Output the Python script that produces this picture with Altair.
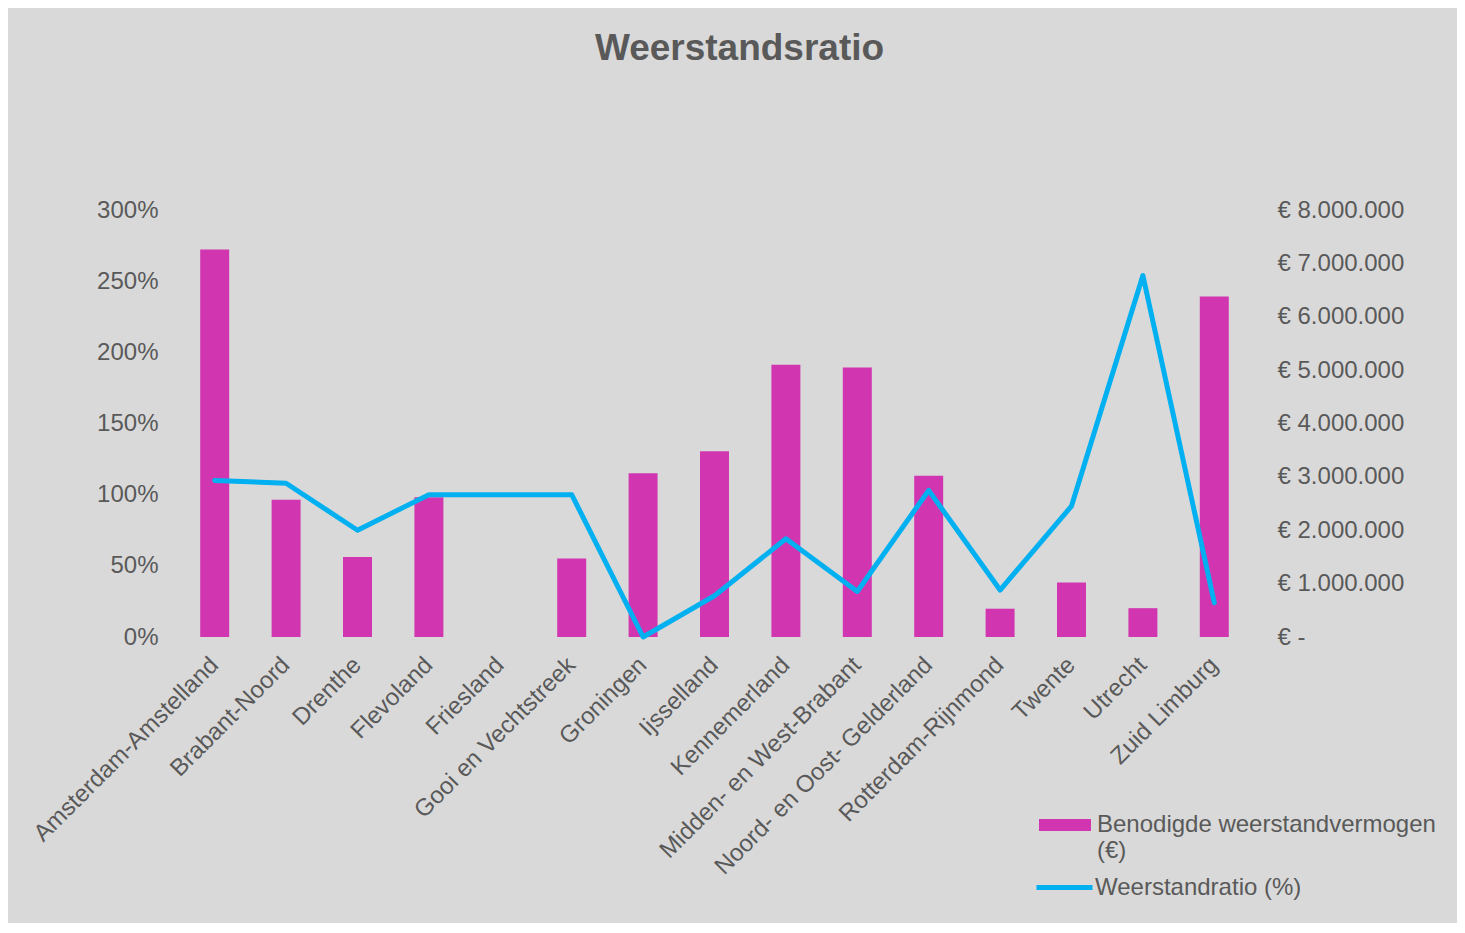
import altair as alt
import pandas as pd

regions = [
    "Amsterdam-Amstelland", "Brabant-Noord", "Drenthe", "Flevoland", "Friesland",
    "Gooi en Vechtstreek", "Groningen", "Ijsselland", "Kennemerland",
    "Midden- en West-Brabant", "Noord- en Oost- Gelderland", "Rotterdam-Rijnmond",
    "Twente", "Utrecht", "Zuid Limburg",
]
vermogen = [7260000, 2570000, 1500000, 2620000, 0, 1470000, 3070000, 3480000,
            5100000, 5050000, 3020000, 530000, 1020000, 540000, 6380000]
ratio = [1.10, 1.08, 0.75, 1.00, 1.00, 1.00, 0.00, 0.29, 0.69, 0.32, 1.03,
         0.33, 0.92, 2.54, 0.24]

left_ticks = [0, 0.5, 1.0, 1.5, 2.0, 2.5, 3.0]
right_ticks = [0, 1000000, 2000000, 3000000, 4000000, 5000000, 6000000, 7000000, 8000000]

bar_label = "Benodigde weerstandvermogen (€)"
line_label = "Weerstandratio (%)"

df = pd.DataFrame({"regio": regions, "vermogen": vermogen, "ratio": ratio})

FONT = "Liberation Sans"
TXT = "#595959"
BAR = "#d136b0"
LINE = "#00b0f0"

x_enc = alt.X(
    "regio:N", sort=regions, title=None,
    scale=alt.Scale(paddingInner=0.594, paddingOuter=0.297),
    axis=alt.Axis(labelAngle=-45, labelAlign="right", labelBaseline="middle",
                  labelPadding=24, domain=False, ticks=False, labelFont=FONT,
                  labelFontSize=24, labelColor=TXT, labelLimit=400),
)

bars = alt.Chart(df).transform_calculate(serie=f"'{bar_label}'").mark_bar(color=BAR).encode(
    x=x_enc,
    y=alt.Y("vermogen:Q", title=None,
            scale=alt.Scale(domain=[0, 8000000], nice=False),
            axis=alt.Axis(orient="right", values=right_ticks, grid=False, domain=False,
                          ticks=False, labelPadding=27, labelFont=FONT, labelFontSize=24,
                          labelColor=TXT,
                          labelExpr="datum.value == 0 ? '€ -' : '€ ' + replace(format(datum.value, ',d'), regexp(',', 'g'), '.')")),
    fill=alt.Fill("serie:N", title=None,
                  scale=alt.Scale(domain=[bar_label], range=[BAR]),
                  legend=alt.Legend(orient="none", legendX=860, legendY=577, padding=0,
                                    symbolType="M-1,0.23L1,0.23L1,0.69L-1,0.69Z",
                                    symbolSize=2704, symbolStrokeWidth=0, labelOffset=6,
                                    labelFont=FONT, labelFontSize=24, labelColor=TXT,
                                    labelLimit=600, labelBaseline="top",
                                    labelExpr="datum.label == '" + bar_label + "' ? ['Benodigde weerstandvermogen', '(€)'] : datum.label")),
)

line = alt.Chart(df).transform_calculate(serie=f"'{line_label}'").mark_line(
    strokeWidth=5, strokeCap="round", strokeJoin="round"
).encode(
    x=x_enc,
    y=alt.Y("ratio:Q", title=None,
            scale=alt.Scale(domain=[0, 3], nice=False),
            axis=alt.Axis(orient="left", values=left_ticks, format=".0%", grid=False,
                          domain=False, ticks=False, labelPadding=21, labelFont=FONT,
                          labelFontSize=24, labelColor=TXT)),
    stroke=alt.Stroke("serie:N", title=None,
                      scale=alt.Scale(domain=[line_label], range=[LINE]),
                      legend=alt.Legend(orient="none", legendX=855, legendY=647, padding=0,
                                        symbolType="stroke", symbolSize=3136,
                                        symbolStrokeWidth=5, labelOffset=0,
                                        labelFont=FONT, labelFontSize=24, labelColor=TXT,
                                        labelLimit=600)),
)

chart = alt.layer(bars, line).resolve_scale(y="independent").properties(
    width=1071,
    height=427,
    autosize=alt.AutoSizeParams(type="none"),
    padding={"left": 171, "top": 202, "right": 207, "bottom": 286},
    background="#d9d9d9",
    title=alt.TitleParams("Weerstandsratio", font=FONT, fontSize=37, fontWeight="bold",
                          color=TXT, anchor="middle", frame="group", baseline="alphabetic",
                          offset=101, dx=25),
).configure_view(stroke=None)

chart.save("out.html", embed_options={"renderer": "svg", "actions": False})
